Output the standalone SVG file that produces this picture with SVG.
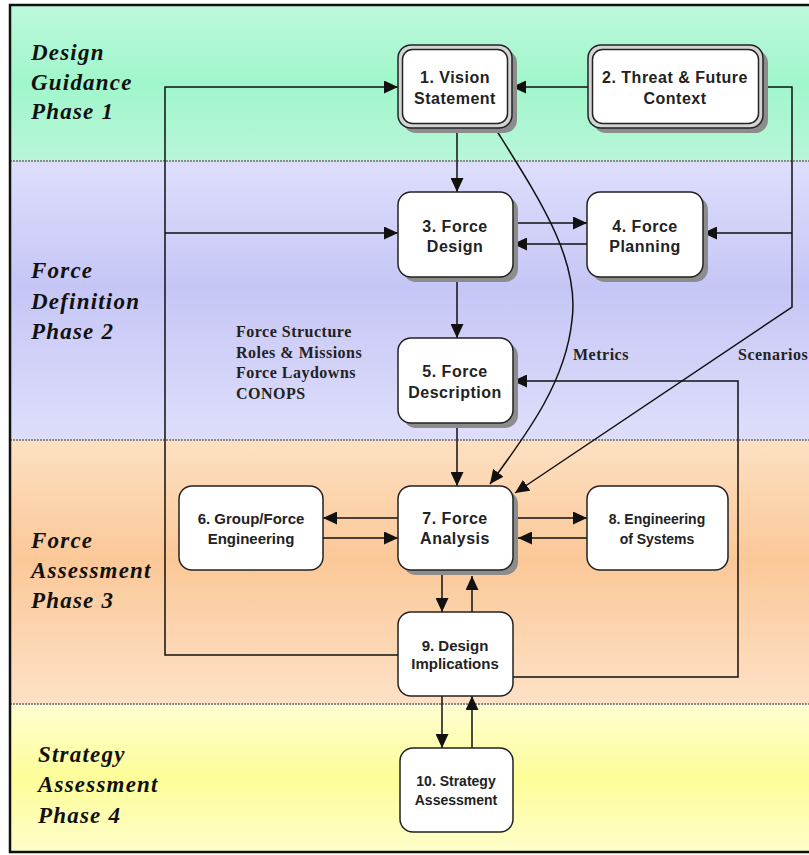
<svg xmlns="http://www.w3.org/2000/svg" width="809" height="855" viewBox="0 0 809 855">
<style>
.phase{font-family:"Liberation Serif","Times New Roman",serif;font-style:italic;font-weight:bold;font-size:23px;letter-spacing:1.2px;fill:#111}
.note{font-family:"Liberation Serif","Times New Roman",serif;font-weight:bold;font-size:16px;letter-spacing:0.5px;fill:#222}
.box{fill:#fff;stroke:#222;stroke-width:1.5}
.outer{fill:#d4d4d4;stroke:#222;stroke-width:1.5}
.shadow{fill:#8c8c8c}
.lbl{font-family:"Liberation Sans",Arial,sans-serif;font-weight:bold;font-size:16px;letter-spacing:0.5px;fill:#222;text-anchor:middle}
.sm{font-size:15px;letter-spacing:0}
.xs{font-size:14px;letter-spacing:0}
.div{stroke:#8a8a8a;stroke-width:2;stroke-dasharray:2 1}
.con{fill:none;stroke:#111;stroke-width:1.5}
</style>
<defs>
<linearGradient id="g1" x1="0" y1="0" x2="0" y2="1"><stop offset="0" stop-color="#bdf9dc"/><stop offset="0.5" stop-color="#a0f6cb"/><stop offset="1" stop-color="#b8f6d9"/></linearGradient>
<linearGradient id="g2" x1="0" y1="0" x2="0" y2="1"><stop offset="0" stop-color="#dedefc"/><stop offset="0.45" stop-color="#c6c6f6"/><stop offset="1" stop-color="#dedefb"/></linearGradient>
<linearGradient id="g3" x1="0" y1="0" x2="0" y2="1"><stop offset="0" stop-color="#fde0c2"/><stop offset="0.45" stop-color="#fbc898"/><stop offset="1" stop-color="#fde1c6"/></linearGradient>
<linearGradient id="g4" x1="0" y1="0" x2="0" y2="1"><stop offset="0" stop-color="#fefed2"/><stop offset="0.5" stop-color="#fdfd98"/><stop offset="1" stop-color="#fefeca"/></linearGradient>
<marker id="ah" markerUnits="userSpaceOnUse" markerWidth="14" markerHeight="13" refX="14" refY="6.5" orient="auto"><path d="M0,0 L14,6.5 L0,13 z" fill="#111"/></marker>
</defs>
<g id="background">
<rect x="10" y="5" width="810" height="156" fill="url(#g1)"/>
<rect x="10" y="161" width="810" height="279" fill="url(#g2)"/>
<rect x="10" y="440" width="810" height="264" fill="url(#g3)"/>
<rect x="10" y="704" width="810" height="148" fill="url(#g4)"/>
<line class="div" x1="10" y1="161" x2="809" y2="161"/>
<line class="div" x1="10" y1="440" x2="809" y2="440"/>
<line class="div" x1="10" y1="704" x2="809" y2="704"/>
<rect x="10" y="5" width="810" height="847" fill="none" stroke="#111" stroke-width="2.5"/>
</g>
<g id="phase-labels">
<text class="phase" x="31" y="60">Design</text>
<text class="phase" x="31" y="90">Guidance</text>
<text class="phase" x="31" y="119">Phase 1</text>
<text class="phase" x="31" y="278">Force</text>
<text class="phase" x="31" y="309">Definition</text>
<text class="phase" x="31" y="339">Phase 2</text>
<text class="phase" x="31" y="548">Force</text>
<text class="phase" x="31" y="578">Assessment</text>
<text class="phase" x="31" y="608">Phase 3</text>
<text class="phase" x="38" y="762">Strategy</text>
<text class="phase" x="38" y="792">Assessment</text>
<text class="phase" x="38" y="823">Phase 4</text>
</g>
<g id="notes">
<text class="note" x="236" y="337">Force Structure</text>
<text class="note" x="236" y="358">Roles &amp; Missions</text>
<text class="note" x="236" y="378">Force Laydowns</text>
<text class="note" x="236" y="399">CONOPS</text>
<text class="note" x="573" y="360">Metrics</text>
<text class="note" x="738" y="360">Scenarios</text>
</g>
<g id="connectors">
<path class="con" d="M398,655 H165 V87 H398" marker-end="url(#ah)"/>
<path class="con" d="M165,233 H398" marker-end="url(#ah)"/>
<path class="con" d="M588,87 H512" marker-end="url(#ah)"/>
<path class="con" d="M762,87 H792 V307 L515,493" marker-end="url(#ah)"/>
<path class="con" d="M792,233 H703" marker-end="url(#ah)"/>
<path class="con" d="M457,128 V192" marker-end="url(#ah)"/>
<path class="con" d="M513,223 H587" marker-end="url(#ah)"/>
<path class="con" d="M587,244 H513" marker-end="url(#ah)"/>
<path class="con" d="M457,277 V338" marker-end="url(#ah)"/>
<path class="con" d="M457,423 V486" marker-end="url(#ah)"/>
<path class="con" d="M495,128 C540,200 580,260 572,320 C566,380 530,430 490,484" marker-end="url(#ah)"/>
<path class="con" d="M513,677 H738 V381 H513" marker-end="url(#ah)"/>
<path class="con" d="M398,518 H323" marker-end="url(#ah)"/>
<path class="con" d="M323,538 H398" marker-end="url(#ah)"/>
<path class="con" d="M513,518 H587" marker-end="url(#ah)"/>
<path class="con" d="M587,538 H518" marker-end="url(#ah)"/>
<path class="con" d="M442,570 V612" marker-end="url(#ah)"/>
<path class="con" d="M472,612 V576" marker-end="url(#ah)"/>
<path class="con" d="M442,696 V748" marker-end="url(#ah)"/>
<path class="con" d="M472,748 V696" marker-end="url(#ah)"/>
</g>
<g id="n1">
<rect class="shadow" x="403" y="50" width="114" height="83" rx="13"/>
<rect class="outer" x="398" y="45" width="114" height="83" rx="13"/>
<rect class="box" x="402.5" y="49.5" width="105" height="74" rx="10"/>
<text class="lbl" x="455" y="83">1. Vision</text>
<text class="lbl" x="455" y="104">Statement</text>
</g>
<g id="n2">
<rect class="shadow" x="593" y="50" width="175" height="83" rx="13"/>
<rect class="outer" x="588" y="45" width="175" height="83" rx="13"/>
<rect class="box" x="592.5" y="49.5" width="166" height="74" rx="10"/>
<text class="lbl" x="675" y="83">2. Threat &amp; Future</text>
<text class="lbl" x="675" y="104">Context</text>
</g>
<g id="n3">
<rect class="shadow" x="403" y="197" width="115" height="85" rx="13"/>
<rect class="box" x="398" y="192" width="115" height="85" rx="13"/>
<text class="lbl" x="455" y="232">3. Force</text>
<text class="lbl" x="455" y="252">Design</text>
</g>
<g id="n4">
<rect class="shadow" x="592" y="197" width="116" height="85" rx="13"/>
<rect class="box" x="587" y="192" width="116" height="85" rx="13"/>
<text class="lbl" x="645" y="232">4. Force</text>
<text class="lbl" x="645" y="252">Planning</text>
</g>
<g id="n5">
<rect class="shadow" x="403" y="343" width="115" height="85" rx="13"/>
<rect class="box" x="398" y="338" width="115" height="85" rx="13"/>
<text class="lbl" x="455" y="377">5. Force</text>
<text class="lbl" x="455" y="398">Description</text>
</g>
<g id="n6">
<rect class="box" x="179" y="486" width="144" height="84" rx="13"/>
<text class="lbl sm" x="251" y="524">6. Group/Force</text>
<text class="lbl sm" x="251" y="544">Engineering</text>
</g>
<g id="n7">
<rect class="shadow" x="403" y="491" width="115" height="84" rx="13"/>
<rect class="box" x="398" y="486" width="115" height="84" rx="13"/>
<text class="lbl" x="455" y="524">7. Force</text>
<text class="lbl" x="455" y="544">Analysis</text>
</g>
<g id="n8">
<rect class="box" x="587" y="486" width="141" height="84" rx="13"/>
<text class="lbl xs" x="657" y="524">8. Engineering</text>
<text class="lbl xs" x="657" y="544">of Systems</text>
</g>
<g id="n9">
<rect class="box" x="398" y="612" width="115" height="84" rx="13"/>
<text class="lbl sm" x="455" y="651">9. Design</text>
<text class="lbl sm" x="455" y="669">Implications</text>
</g>
<g id="n10">
<rect class="box" x="400" y="748" width="113" height="84" rx="13"/>
<text class="lbl xs" x="456" y="786">10. Strategy</text>
<text class="lbl xs" x="456" y="805">Assessment</text>
</g>
</svg>
